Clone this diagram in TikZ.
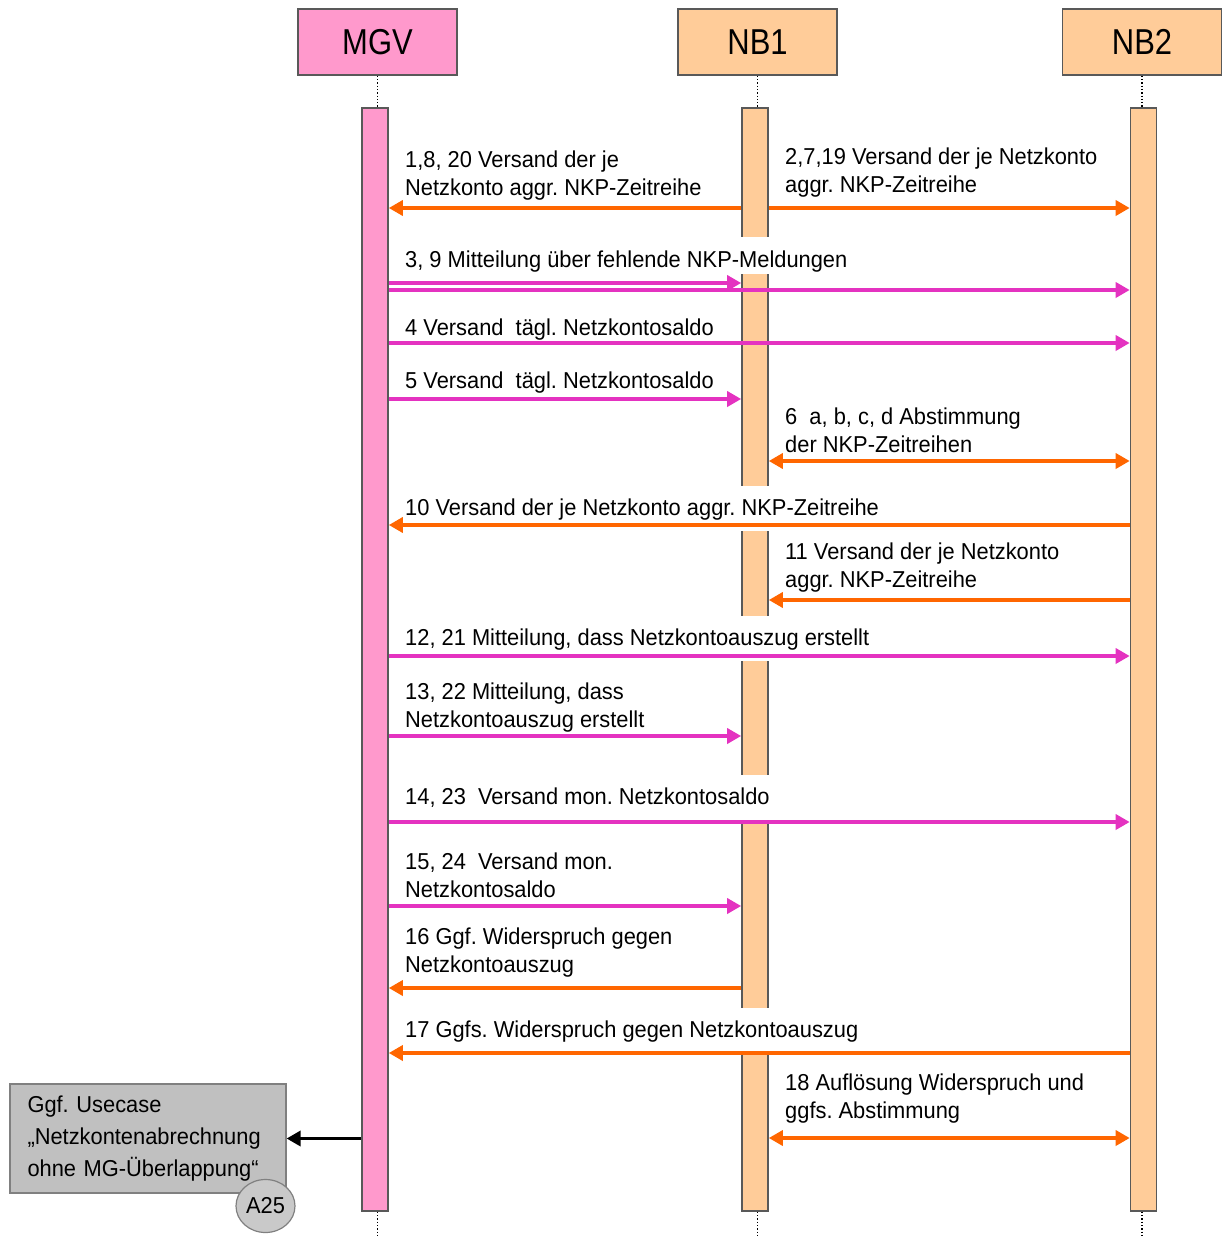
\documentclass[tikz,border=0pt]{standalone}
\usepackage{fontspec}
\setmainfont{Liberation Sans}[FakeStretch=0.95]
\newfontfamily\headfont{Liberation Sans}[FakeStretch=0.86]
\usepackage{tikz}
\usetikzlibrary{positioning,arrows.meta,shapes.geometric}
\usepackage{xcolor}
\definecolor{mgvpink}{HTML}{FF99CC}
\definecolor{nbpeach}{HTML}{FFCC99}
\definecolor{msgorange}{HTML}{FF6600}
\definecolor{msgmagenta}{RGB}{228,50,192}
\definecolor{framegray}{HTML}{595959}
\definecolor{ucgray}{HTML}{C0C0C0}
\frenchspacing

\begin{document}
\begin{tikzpicture}[x=1pt, y=-1pt,
    head/.style={draw=framegray, line width=1.6pt, minimum width=159pt, minimum height=66pt, font=\headfont\fontsize{36}{40}\selectfont},
    actbar/.style={draw=framegray, line width=1.6pt, minimum width=26pt, minimum height=1103pt, inner sep=0pt},
    lifeline/.style={dotted, line width=1.3pt},
    msg/.style={anchor=base west, align=left, inner sep=0pt, font=\fontsize{23}{27.5}\selectfont},
    wmsg/.style={msg, fill=white, inner xsep=2pt, inner ysep=11pt, text height=18pt, text depth=5pt},
    oarr/.style={-{Triangle[length=14pt, width=15pt]}, line width=3.4pt, msgorange},
    oarrboth/.style={{Triangle[length=14pt, width=15pt]}-{Triangle[length=14pt, width=15pt]}, line width=3.4pt, msgorange},
    marr/.style={-{Triangle[length=14pt, width=15pt]}, line width=3.4pt, msgmagenta}]
    \useasboundingbox (0,0) rectangle (1224,1236);

    % =========================================================
    % PARTICIPANTS AND ACTIVATION BARS
    % =========================================================
    \node[head, fill=mgvpink] (mgv) at (377.5,42) {MGV};
    \node[head, fill=nbpeach] (nb1) at (757.5,42) {NB1};
    \node[head, fill=nbpeach] (nb2) at (1142,42) {NB2};

    \node[actbar, fill=mgvpink] (mgvbar) at (375,659.5) {};
    \node[actbar, fill=nbpeach] (nb1bar) at (755,659.5) {};
    \node[actbar, fill=nbpeach] (nb2bar) at (1143.5,659.5) {};

    % Lifelines (dotted)
    \draw[lifeline] (mgv.south) -- (mgv.south |- mgvbar.north);
    \draw[lifeline] (nb1.south) -- (nb1.south |- nb1bar.north);
    \draw[lifeline] (nb2.south) -- (nb2.south |- nb2bar.north);
    \draw[lifeline] (mgv.south |- mgvbar.south) -- ++(0,25);
    \draw[lifeline] (nb1.south |- nb1bar.south) -- ++(0,25);
    \draw[lifeline] (nb2.south |- nb2bar.south) -- ++(0,25);

    % =========================================================
    % MESSAGE LABELS (white ones cut the NB1 bar)
    % =========================================================
    \node[msg] (m1) at (405,195) {1,8, 20 Versand der je\\Netzkonto aggr. NKP-Zeitreihe};
    \node[msg] (m2) at (785,192) {2,7,19 Versand der je Netzkonto\\aggr. NKP-Zeitreihe};
    \node[wmsg, text height=23pt, text depth=0pt, inner ysep=7pt] (m3) at (403,267) {3, 9 Mitteilung über fehlende NKP-Meldungen};
    \node[msg] (m4) at (405,335) {4 Versand~ tägl. Netzkontosaldo};
    \node[msg] (m5) at (405,388) {5 Versand~ tägl. Netzkontosaldo};
    \node[msg] (m6) at (785,452) {6~ a, b, c, d Abstimmung\\der NKP-Zeitreihen};
    \node[wmsg] (m10) at (403,515) {10 Versand der je Netzkonto aggr. NKP-Zeitreihe};
    \node[msg] (m11) at (785,587) {11 Versand der je Netzkonto\\aggr. NKP-Zeitreihe};
    \node[wmsg] (m12) at (403,645) {12, 21 Mitteilung, dass Netzkontoauszug erstellt};
    \node[msg] (m13) at (405,727) {13, 22 Mitteilung, dass\\Netzkontoauszug erstellt};
    \node[wmsg] (m14) at (403,804) {14, 23~ Versand mon. Netzkontosaldo};
    \node[msg] (m15) at (405,897) {15, 24~ Versand mon.\\Netzkontosaldo};
    \node[msg] (m16) at (405,972) {16 Ggf. Widerspruch gegen\\Netzkontoauszug};
    \node[wmsg] (m17) at (403,1037) {17 Ggfs. Widerspruch gegen Netzkontoauszug};
    \node[msg] (m18) at (785,1118) {18 Auflösung Widerspruch und\\ggfs. Abstimmung};

    % =========================================================
    % MESSAGES
    % =========================================================
    \draw[oarr] (nb1bar.west |- 0,208) -- (mgvbar.east |- 0,208);
    \draw[oarr] (nb1bar.east |- 0,208) -- (nb2bar.west |- 0,208);
    \draw[marr] (mgvbar.east |- 0,283) -- (nb1bar.west |- 0,283);
    \draw[marr] (mgvbar.east |- 0,290) -- (nb2bar.west |- 0,290);
    \draw[marr] (mgvbar.east |- 0,343) -- (nb2bar.west |- 0,343);
    \draw[marr] (mgvbar.east |- 0,399) -- (nb1bar.west |- 0,399);
    \draw[oarrboth] (nb1bar.east |- 0,461) -- (nb2bar.west |- 0,461);
    \draw[oarr] (nb2bar.west |- 0,525) -- (mgvbar.east |- 0,525);
    \draw[oarr] (nb2bar.west |- 0,600) -- (nb1bar.east |- 0,600);
    \draw[marr] (mgvbar.east |- 0,656) -- (nb2bar.west |- 0,656);
    \draw[marr] (mgvbar.east |- 0,736) -- (nb1bar.west |- 0,736);
    \draw[marr] (mgvbar.east |- 0,822) -- (nb2bar.west |- 0,822);
    \draw[marr] (mgvbar.east |- 0,906) -- (nb1bar.west |- 0,906);
    \draw[oarr] (nb1bar.west |- 0,988) -- (mgvbar.east |- 0,988);
    \draw[oarr] (nb2bar.west |- 0,1053) -- (mgvbar.east |- 0,1053);
    \draw[oarrboth] (nb1bar.east |- 0,1138) -- (nb2bar.west |- 0,1138);

    % =========================================================
    % FOLLOW-UP USE CASE
    % =========================================================
    \node[draw=gray, line width=1.2pt, fill=ucgray, minimum width=276pt, minimum height=109pt,
          text width=241pt, inner xsep=17.5pt, align=left, font=\fontsize{23}{32}\selectfont]
          (usecase) at (148,1138.5) {Ggf. Usecase\\„Netzkontenabrechnung\\ohne MG-Überlappung“};
    \node[ellipse, draw=gray, line width=1.2pt, fill=ucgray!85, minimum width=59pt, minimum height=53pt,
          inner sep=0pt, font=\fontsize{23}{25}\selectfont] (a25) at (265.5,1206) {A25};
    \draw[-{Triangle[length=14pt, width=15pt]}, line width=3.4pt] (mgvbar.west |- usecase.east) -- (usecase.east);
\end{tikzpicture}
\end{document}
